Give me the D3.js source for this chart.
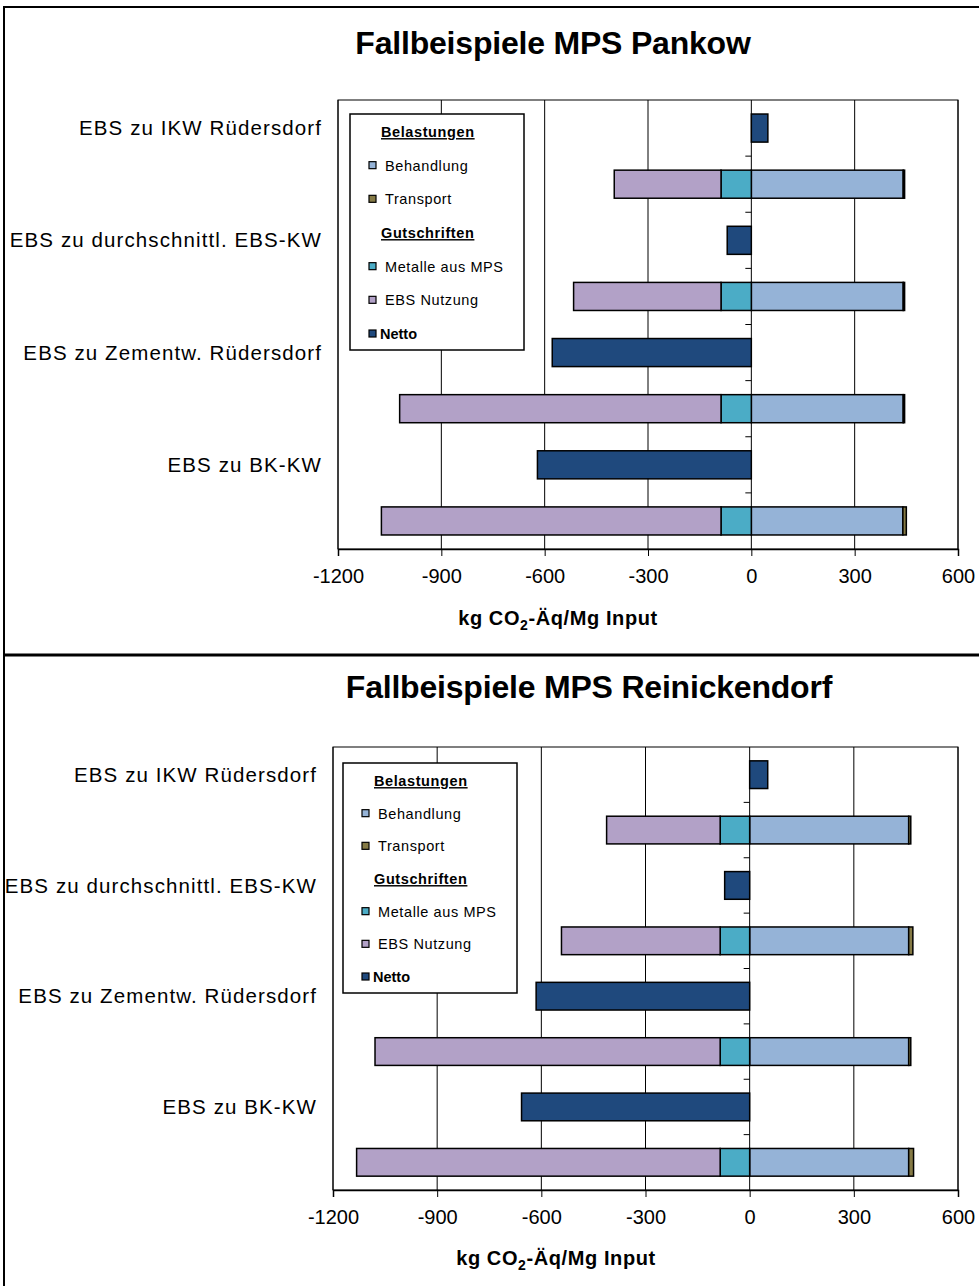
<!DOCTYPE html>
<html>
<head>
<meta charset="utf-8">
<script src="https://cdn.jsdelivr.net/npm/d3@7"></script>
<style>
  body { margin: 0; background: #fff; }
  svg { display: block; font-family: "Liberation Sans", Arial, sans-serif; }
</style>
</head>
<body>
<div id="chart"></div>
<script>
// Kategorien (je Kategorie: ein Netto-Balken und ein gestapelter Balken)
const categories = ['EBS zu IKW Rüdersdorf', 'EBS zu durchschnittl. EBS-KW', 'EBS zu Zementw. Rüdersdorf', 'EBS zu BK-KW'];
const xTicks = [-1200, -900, -600, -300, 0, 300, 600];

// Pankow
const pankowBehandlung = [441, 441, 441, 440];
const pankowTransport = [4, 4, 4, 10];
const pankowMetalle = [-88, -88, -88, -88];
const pankowEbs = [-310, -428, -933, -986];
const pankowNetto = [48, -70, -578, -621];

// Reinickendorf
const reiBehandlung = [458, 458, 458, 458];
const reiTransport = [6, 12, 6, 14];
const reiMetalle = [-85, -85, -85, -85];
const reiEbs = [-327, -457, -994, -1047];
const reiNetto = [52, -72, -615, -657];

const legendItems = [
  { label: 'Belastungen', header: true },
  { label: 'Behandlung', key: 'behandlung' },
  { label: 'Transport', key: 'transport' },
  { label: 'Gutschriften', header: true },
  { label: 'Metalle aus MPS', key: 'metalle' },
  { label: 'EBS Nutzung', key: 'ebs' },
  { label: 'Netto', key: 'netto', bold: true }
];

const colors = {
  behandlung: '#95b3d7',
  transport: '#857a45',
  metalle: '#4bacc6',
  ebs: '#b2a1c7',
  netto: '#1f497d'
};
const keys = ['behandlung', 'transport', 'metalle', 'ebs'];

const svg = d3.select('#chart').append('svg')
  .attr('width', 979)
  .attr('height', 1286);

// Rahmen
svg.append('rect').attr('x', 4).attr('y', 7).attr('width', 990).attr('height', 648)
  .attr('fill', 'none').attr('stroke', '#000').attr('stroke-width', 2);
svg.append('rect').attr('x', 4).attr('y', 655).attr('width', 990).attr('height', 650)
  .attr('fill', 'none').attr('stroke', '#000').attr('stroke-width', 2);
svg.append('line').attr('x1', 4).attr('x2', 979).attr('y1', 655).attr('y2', 655)
  .attr('stroke', '#000').attr('stroke-width', 3);

function drawPanel(p) {
  const rows = categories.map((c, i) => ({
    cat: c,
    behandlung: p.behandlung[i],
    transport: p.transport[i],
    metalle: p.metalle[i],
    ebs: p.ebs[i],
    netto: p.netto[i]
  }));

  const x = d3.scaleLinear().domain([-1200, 600]).range([p.left, p.right]);
  const slots = d3.range(categories.length * 2);
  const y = d3.scaleBand().domain(slots).range([p.top, p.bottom]).paddingInner(0.5).paddingOuter(0.25);
  const slotH = (p.bottom - p.top) / slots.length;

  const g = svg.append('g');

  // Titel
  g.append('text')
    .attr('x', p.titleX).attr('y', p.titleY)
    .attr('text-anchor', 'middle')
    .style('font-size', '32px').style('font-weight', 'bold')
    .style('letter-spacing', '-0.2px')
    .text(p.title);

  // Gitterlinien
  g.selectAll('.grid').data(xTicks).enter().append('line')
    .attr('x1', d => x(d)).attr('x2', d => x(d))
    .attr('y1', p.top).attr('y2', p.bottom)
    .attr('stroke', '#000').attr('stroke-width', 1);

  g.append('rect')
    .attr('x', p.left).attr('y', p.top)
    .attr('width', p.right - p.left).attr('height', p.bottom - p.top)
    .attr('fill', 'none').attr('stroke', '#000').attr('stroke-width', 1);

  // x-Achse
  const xAxis = g.append('g')
    .attr('transform', `translate(0,${p.bottom})`)
    .call(d3.axisBottom(x).tickValues(xTicks).tickSize(7).tickPadding(13).tickFormat(d => String(d)));
  xAxis.select('.domain').attr('stroke', '#000').attr('stroke-width', 1.5);
  xAxis.selectAll('line').attr('stroke', '#000');
  xAxis.selectAll('text')
    .style('font-size', '20px')
    .style('font-family', '"Liberation Sans Narrow", "Liberation Sans", Arial, sans-serif')
    .attr('fill', '#000');

  // Kategorie-Ticks an der Nulllinie
  g.selectAll('.ctick').data(d3.range(1, slots.length)).enter().append('line')
    .attr('x1', x(0) - 6).attr('x2', x(0))
    .attr('y1', d => p.top + d * slotH).attr('y2', d => p.top + d * slotH)
    .attr('stroke', '#000').attr('stroke-width', 1);

  // Achsentitel
  const at = g.append('text')
    .attr('x', p.axisTitleX).attr('y', p.axisTitleY)
    .attr('text-anchor', 'middle')
    .style('font-size', '20px').style('font-weight', 'bold')
    .style('letter-spacing', '0.6px');
  at.append('tspan').text('kg CO');
  at.append('tspan').attr('dy', 5).style('font-size', '14px').text('2');
  at.append('tspan').attr('dy', -5).text('-Äq/Mg  Input');

  // Kategorie-Beschriftungen
  g.selectAll('.clabel').data(categories).enter().append('text')
    .attr('x', p.labelX)
    .attr('y', (d, i) => y(i * 2) + y.bandwidth() / 2)
    .attr('dy', '0.35em')
    .attr('text-anchor', 'end')
    .style('font-size', '20.5px')
    .style('letter-spacing', '1.1px')
    .text(d => d);

  // gestapelte Balken
  const stack = d3.stack().keys(keys).offset(d3.stackOffsetDiverging);
  const series = stack(rows);
  series.forEach(s => {
    g.selectAll('.bar-' + s.key).data(s).enter().append('rect')
      .attr('x', d => x(Math.min(d[0], d[1])))
      .attr('width', d => Math.abs(x(d[1]) - x(d[0])))
      .attr('y', (d, i) => y(i * 2 + 1))
      .attr('height', y.bandwidth())
      .attr('fill', colors[s.key])
      .attr('stroke', '#000').attr('stroke-width', 1.5);
  });

  // Netto
  g.selectAll('.netto').data(rows).enter().append('rect')
    .attr('x', d => x(Math.min(0, d.netto)))
    .attr('width', d => Math.abs(x(d.netto) - x(0)))
    .attr('y', (d, i) => y(i * 2))
    .attr('height', y.bandwidth())
    .attr('fill', colors.netto)
    .attr('stroke', '#000').attr('stroke-width', 1.5);

  // Legende
  const lg = g.append('g').attr('transform', `translate(${p.legX},${p.legY})`);
  lg.append('rect').attr('width', 174).attr('height', p.legH)
    .attr('fill', '#fff').attr('stroke', '#000').attr('stroke-width', 1.5);
  const step = (p.legH - 34) / (legendItems.length - 1);
  legendItems.forEach((it, i) => {
    const ly = 18 + i * step;
    if (it.header) {
      lg.append('text').attr('x', 31).attr('y', ly).attr('dy', '0.35em')
        .style('font-size', '14.5px').style('font-weight', 'bold')
        .style('letter-spacing', '0.6px')
        .style('text-decoration', 'underline')
        .text(it.label);
    } else {
      lg.append('rect').attr('x', 19).attr('y', ly - 4).attr('width', 7).attr('height', 7)
        .attr('fill', colors[it.key]).attr('stroke', '#000').attr('stroke-width', 1.2);
      lg.append('text').attr('x', it.bold ? 30 : 35).attr('y', ly).attr('dy', '0.35em')
        .style('font-size', '14.5px')
        .style('font-weight', it.bold ? 'bold' : 'normal')
        .style('letter-spacing', it.bold ? '0px' : '0.6px')
        .text(it.label);
    }
  });
}

drawPanel({
  title: 'Fallbeispiele MPS Pankow',
  titleX: 553, titleY: 54,
  left: 338, right: 958, top: 100, bottom: 549,
  labelX: 322,
  axisTitleX: 558, axisTitleY: 625,
  legX: 350, legY: 114, legH: 236,
  behandlung: pankowBehandlung, transport: pankowTransport,
  metalle: pankowMetalle, ebs: pankowEbs, netto: pankowNetto
});

drawPanel({
  title: 'Fallbeispiele MPS Reinickendorf',
  titleX: 589, titleY: 698,
  left: 333, right: 958, top: 747, bottom: 1190,
  labelX: 317,
  axisTitleX: 556, axisTitleY: 1265,
  legX: 343, legY: 763, legH: 230,
  behandlung: reiBehandlung, transport: reiTransport,
  metalle: reiMetalle, ebs: reiEbs, netto: reiNetto
});
</script>
</body>
</html>
